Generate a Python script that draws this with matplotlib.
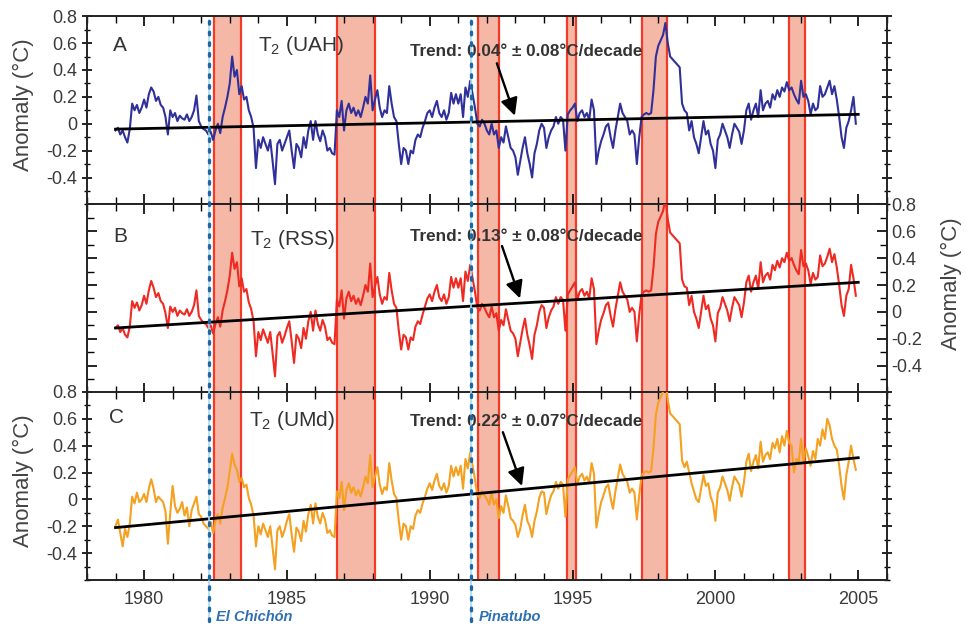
import numpy as np
import matplotlib
matplotlib.use('Agg')
import matplotlib.pyplot as plt
import matplotlib.transforms as mtransforms
from matplotlib.lines import Line2D
from matplotlib.ticker import MultipleLocator, FixedLocator, FuncFormatter

plt.rcParams['font.family'] = ['Liberation Sans', 'DejaVu Sans']
plt.rcParams['axes.unicode_minus'] = False
plt.rcParams['mathtext.default'] = 'regular'

# ---------------- data (monthly anomalies, one row per year 1979..2004) -------------
start_year = 1979
uah = [
    [-0.05, -0.03, -0.08, -0.05, -0.10, -0.14, -0.04, 0.15, 0.10, 0.14, 0.08, 0.12],
    [0.18, 0.12, 0.22, 0.27, 0.24, 0.17, 0.20, 0.14, 0.12, 0.05, -0.08, 0.10],
    [0.05, 0.08, 0.02, 0.06, 0.04, 0.03, 0.07, 0.02, 0.05, 0.10, 0.21, 0.02],
    [-0.02, -0.04, -0.05, -0.08, -0.06, -0.12, -0.05, 0.00, -0.07, 0.05, 0.12, 0.20],
    [0.30, 0.50, 0.35, 0.40, 0.22, 0.28, 0.18, 0.20, 0.10, 0.05, -0.03, -0.33],
    [-0.12, -0.18, -0.10, -0.15, -0.20, -0.12, -0.28, -0.45, -0.15, -0.12, -0.20, -0.15],
    [-0.10, -0.05, -0.20, -0.33, -0.15, -0.18, -0.25, -0.10, -0.18, -0.05, 0.02, -0.12],
    [0.02, -0.08, -0.13, -0.05, -0.10, -0.20, -0.18, -0.22, -0.23, 0.10, 0.05, 0.17],
    [-0.05, 0.10, 0.15, 0.08, 0.12, 0.06, 0.10, 0.05, 0.12, 0.20, 0.15, 0.36],
    [0.10, 0.18, 0.25, 0.12, 0.05, 0.10, 0.08, 0.28, 0.15, 0.05, 0.02, -0.15],
    [-0.30, -0.18, -0.20, -0.30, -0.20, -0.22, -0.12, -0.08, -0.10, -0.03, 0.02, 0.08],
    [0.10, 0.05, 0.12, 0.17, 0.08, 0.05, 0.10, 0.03, 0.08, 0.23, 0.15, 0.22],
    [0.15, 0.22, 0.05, 0.27, 0.20, 0.32, 0.22, 0.12, 0.00, -0.02, 0.03, 0.00],
    [-0.05, -0.08, 0.00, -0.08, -0.05, -0.18, -0.10, -0.14, -0.02, -0.10, -0.18, -0.20],
    [-0.25, -0.38, -0.28, -0.18, -0.10, -0.22, -0.30, -0.40, -0.22, -0.15, -0.05, 0.00],
    [-0.03, -0.18, -0.10, -0.05, -0.02, 0.05, 0.00, 0.05, 0.03, -0.20, 0.07, 0.10],
    [0.12, 0.15, 0.02, 0.08, 0.10, 0.05, 0.08, 0.03, 0.18, 0.10, -0.30, -0.20],
    [-0.13, -0.08, -0.02, 0.00, -0.10, -0.18, -0.05, 0.05, 0.15, 0.08, 0.05, 0.02],
    [-0.08, -0.05, -0.08, -0.30, -0.10, 0.05, 0.07, 0.08, 0.07, 0.08, 0.25, 0.50],
    [0.58, 0.62, 0.66, 0.75, 0.60, 0.50, 0.48, 0.46, 0.44, 0.42, 0.15, 0.10],
    [0.08, -0.05, 0.02, -0.10, -0.15, -0.22, -0.10, 0.02, -0.08, -0.05, -0.15, -0.20],
    [-0.33, -0.12, -0.08, 0.00, -0.05, -0.10, -0.18, -0.08, 0.00, -0.03, -0.06, -0.15],
    [-0.05, 0.10, 0.15, 0.03, 0.10, 0.15, 0.05, 0.25, 0.10, 0.15, 0.17, 0.12],
    [0.22, 0.18, 0.25, 0.20, 0.27, 0.24, 0.31, 0.25, 0.27, 0.22, 0.18, 0.15],
    [0.32, 0.20, 0.22, 0.17, 0.07, 0.15, 0.10, 0.12, 0.28, 0.20, 0.22, 0.27],
    [0.32, 0.22, 0.28, 0.18, 0.05, -0.10, -0.18, -0.03, 0.02, 0.10, 0.20, 0.00],
]
rss = [
    [-0.12, -0.10, -0.15, -0.12, -0.17, -0.19, -0.11, 0.08, 0.03, 0.07, 0.01, 0.05],
    [0.12, 0.06, 0.16, 0.23, 0.18, 0.11, 0.14, 0.08, 0.06, -0.01, -0.12, 0.04],
    [0.00, 0.03, -0.03, 0.01, -0.01, -0.02, 0.02, -0.03, 0.00, 0.05, 0.16, -0.03],
    [-0.06, -0.08, -0.09, -0.12, -0.10, -0.16, -0.09, -0.04, -0.11, 0.01, 0.08, 0.16],
    [0.27, 0.44, 0.32, 0.37, 0.19, 0.25, 0.15, 0.17, 0.07, 0.02, -0.07, -0.33],
    [-0.15, -0.21, -0.13, -0.18, -0.23, -0.15, -0.31, -0.48, -0.18, -0.15, -0.23, -0.18],
    [-0.12, -0.07, -0.22, -0.38, -0.17, -0.20, -0.27, -0.12, -0.20, -0.07, 0.00, -0.14],
    [0.01, -0.09, -0.14, -0.06, -0.11, -0.21, -0.19, -0.23, -0.24, 0.09, 0.04, 0.16],
    [-0.05, 0.10, 0.15, 0.08, 0.12, 0.06, 0.10, 0.05, 0.12, 0.20, 0.15, 0.36],
    [0.11, 0.19, 0.26, 0.13, 0.06, 0.11, 0.09, 0.29, 0.16, 0.06, 0.03, -0.14],
    [-0.28, -0.17, -0.19, -0.28, -0.19, -0.21, -0.11, -0.07, -0.09, -0.02, 0.04, 0.10],
    [0.13, 0.08, 0.15, 0.20, 0.11, 0.08, 0.13, 0.06, 0.11, 0.26, 0.18, 0.25],
    [0.18, 0.25, 0.08, 0.30, 0.23, 0.35, 0.25, 0.15, 0.03, 0.01, 0.06, 0.03],
    [-0.01, -0.04, 0.04, -0.04, -0.01, -0.14, -0.06, -0.10, 0.02, -0.06, -0.14, -0.16],
    [-0.20, -0.33, -0.23, -0.13, -0.05, -0.17, -0.25, -0.35, -0.17, -0.10, 0.00, 0.05],
    [0.03, -0.12, -0.04, 0.01, 0.04, 0.11, 0.06, 0.11, 0.09, -0.14, 0.13, 0.16],
    [0.19, 0.22, 0.09, 0.15, 0.17, 0.12, 0.15, 0.10, 0.25, 0.17, -0.24, -0.14],
    [-0.06, -0.01, 0.05, 0.07, -0.03, -0.11, 0.02, 0.12, 0.22, 0.15, 0.12, 0.09],
    [0.00, 0.03, 0.00, -0.22, -0.02, 0.13, 0.15, 0.16, 0.15, 0.16, 0.33, 0.58],
    [0.67, 0.71, 0.75, 0.84, 0.69, 0.59, 0.57, 0.55, 0.53, 0.51, 0.24, 0.19],
    [0.18, 0.05, 0.12, 0.00, -0.05, -0.12, 0.00, 0.12, 0.02, 0.05, -0.05, -0.10],
    [-0.22, -0.01, 0.03, 0.11, 0.06, 0.01, -0.07, 0.03, 0.11, 0.08, 0.05, -0.04],
    [0.07, 0.22, 0.27, 0.15, 0.22, 0.27, 0.17, 0.37, 0.22, 0.27, 0.29, 0.24],
    [0.35, 0.31, 0.38, 0.33, 0.40, 0.37, 0.44, 0.38, 0.40, 0.35, 0.31, 0.28],
    [0.46, 0.34, 0.36, 0.31, 0.21, 0.29, 0.24, 0.26, 0.42, 0.34, 0.36, 0.41],
    [0.47, 0.37, 0.43, 0.33, 0.20, 0.05, -0.03, 0.12, 0.17, 0.35, 0.25, 0.12],
]
umd = [
    [-0.20, -0.15, -0.25, -0.35, -0.22, -0.28, -0.18, 0.02, -0.03, 0.05, -0.02, 0.00],
    [0.04, -0.02, 0.08, 0.15, 0.08, -0.02, 0.02, 0.00, -0.02, -0.09, -0.33, -0.10],
    [0.10, -0.05, -0.10, -0.07, -0.02, -0.12, -0.06, -0.20, -0.08, -0.03, 0.02, -0.11],
    [-0.13, -0.18, -0.20, -0.22, -0.17, -0.25, -0.16, -0.11, -0.18, -0.06, 0.01, 0.09],
    [0.21, 0.34, 0.26, 0.22, 0.13, 0.16, 0.09, 0.11, 0.01, -0.04, -0.12, -0.35],
    [-0.20, -0.26, -0.18, -0.23, -0.28, -0.20, -0.36, -0.52, -0.23, -0.20, -0.28, -0.23],
    [-0.16, -0.11, -0.26, -0.39, -0.21, -0.24, -0.31, -0.16, -0.24, -0.11, -0.04, -0.18],
    [-0.03, -0.13, -0.18, -0.10, -0.15, -0.25, -0.23, -0.27, -0.28, 0.06, 0.01, 0.13],
    [-0.08, 0.07, 0.12, 0.05, 0.09, 0.03, 0.07, 0.02, 0.09, 0.17, 0.12, 0.33],
    [0.09, 0.17, 0.24, 0.11, 0.04, 0.09, 0.07, 0.27, 0.14, 0.04, 0.01, -0.16],
    [-0.30, -0.18, -0.20, -0.30, -0.20, -0.22, -0.12, -0.08, -0.10, -0.03, 0.02, 0.08],
    [0.12, 0.07, 0.14, 0.19, 0.10, 0.07, 0.12, 0.05, 0.10, 0.25, 0.17, 0.24],
    [0.18, 0.25, 0.08, 0.30, 0.23, 0.35, 0.25, 0.15, 0.03, 0.01, 0.06, 0.03],
    [0.00, -0.04, 0.05, -0.04, 0.00, -0.14, -0.05, -0.10, 0.03, -0.05, -0.14, -0.16],
    [-0.19, -0.28, -0.22, -0.12, -0.04, -0.16, -0.20, -0.28, -0.16, -0.09, 0.01, 0.06],
    [0.05, -0.11, -0.03, 0.03, 0.06, 0.13, 0.08, 0.13, 0.11, -0.13, 0.15, 0.18],
    [0.21, 0.24, 0.11, 0.17, 0.19, 0.14, 0.17, 0.12, 0.27, 0.19, -0.21, -0.11],
    [-0.02, 0.03, 0.09, 0.11, 0.01, -0.07, 0.06, 0.16, 0.26, 0.19, 0.16, 0.13],
    [0.05, 0.08, 0.05, -0.15, 0.03, 0.18, 0.20, 0.21, 0.20, 0.21, 0.38, 0.63],
    [0.72, 0.76, 0.80, 0.89, 0.74, 0.64, 0.62, 0.60, 0.58, 0.56, 0.29, 0.24],
    [0.28, 0.20, 0.12, 0.06, 0.00, -0.02, 0.08, 0.18, 0.10, 0.12, 0.02, -0.03],
    [-0.16, 0.05, 0.09, 0.17, 0.12, 0.07, -0.01, 0.09, 0.17, 0.14, 0.11, 0.02],
    [0.13, 0.28, 0.34, 0.21, 0.28, 0.33, 0.23, 0.43, 0.28, 0.33, 0.35, 0.30],
    [0.42, 0.38, 0.45, 0.35, 0.47, 0.40, 0.51, 0.42, 0.40, 0.20, 0.30, 0.28],
    [0.45, 0.28, 0.38, 0.32, 0.25, 0.36, 0.30, 0.45, 0.40, 0.52, 0.45, 0.60],
    [0.55, 0.45, 0.40, 0.37, 0.25, 0.10, 0.00, 0.18, 0.28, 0.40, 0.30, 0.22],
]
trend_years = [1979, 2005]
trend_uah = [-0.04, 0.07]
trend_rss = [-0.12, 0.22]
trend_umd = [-0.21, 0.31]

enso_start = [1982.46, 1986.77, 1991.68, 1994.81, 1997.44, 2002.56]
enso_end = [1983.40, 1988.07, 1992.42, 1995.12, 1998.32, 2003.12]

volcano_years = [1982.28, 1991.46]
volcano_names = ['El Chichón', 'Pinatubo']

panel_letters = ['A', 'B', 'C']
panel_names = ['T$_2$ (UAH)', 'T$_2$ (RSS)', 'T$_2$ (UMd)']
trend_texts = ['Trend: 0.04° ± 0.08°C/decade',
               'Trend: 0.13° ± 0.08°C/decade',
               'Trend: 0.22° ± 0.07°C/decade']
ytick_values = [-0.4, -0.2, 0, 0.2, 0.4, 0.6, 0.8]
xtick_years = [1980, 1985, 1990, 1995, 2000, 2005]
ylabel_text = 'Anomaly (°C)'

# ---------------- figure ----------------
series = [np.array(uah).ravel(), np.array(rss).ravel(), np.array(umd).ravel()]
trends = [trend_uah, trend_rss, trend_umd]
colors = ['#30309a', '#ee2a22', '#f4a020']
t = start_year + np.arange(series[0].size) / 12.0

fig = plt.figure(figsize=(9.66, 6.25), dpi=100)
left, width = 0.090, 0.828
bottoms = [0.673, 0.372, 0.072]
height = 0.301
axes = [fig.add_axes([left, b, width, height]) for b in bottoms]

tick_color = '#3a3a3a'
fmt = FuncFormatter(lambda v, p: '0' if abs(v) < 1e-9 else '%.1f' % v)

# arrow positions (tail, head) in data coords
arrow_pos = [((1992.35, 0.45), (1992.98, 0.06)),
             ((1992.53, 0.49), (1993.16, 0.10)),
             ((1992.56, 0.50), (1993.23, 0.10))]
letter_pos = [(0.033, 0.845), (0.033, 0.83), (0.028, 0.865)]
name_pos = [(0.214, 0.845), (0.204, 0.815), (0.202, 0.85)]
trend_pos = [(0.404, 0.815), (0.404, 0.83), (0.404, 0.84)]

for i, ax in enumerate(axes):
    ax.set_xlim(1978, 2006)
    ax.set_ylim(-0.6, 0.8)
    for s, e in zip(enso_start, enso_end):
        ax.axvspan(s, e, color='#f6b8a6', lw=0, zorder=1)
        ax.axvline(s, color='#f23a26', lw=1.6, zorder=2)
        ax.axvline(e, color='#f23a26', lw=1.6, zorder=2)
    ax.plot(t, series[i], color=colors[i], lw=1.5, zorder=3)
    ax.plot(trend_years, trends[i], color='black', lw=2.0, zorder=4)
    ax.annotate('', xy=arrow_pos[i][1], xytext=arrow_pos[i][0],
                arrowprops=dict(arrowstyle='-|>', mutation_scale=26, lw=1.7,
                                color='black', shrinkA=0, shrinkB=0), zorder=6)
    ax.text(*letter_pos[i], panel_letters[i], transform=ax.transAxes, fontsize=15,
            color='#333333', va='center', ha='left', zorder=6)
    ax.text(*name_pos[i], panel_names[i], transform=ax.transAxes, fontsize=15,
            color='#333333', va='center', ha='left', zorder=6)
    ax.text(*trend_pos[i], trend_texts[i], transform=ax.transAxes, fontsize=12.3,
            fontweight='bold', color='#333333', va='center', ha='left', zorder=6)

    ax.xaxis.set_major_locator(FixedLocator(xtick_years))
    ax.xaxis.set_minor_locator(MultipleLocator(1))
    ax.yaxis.set_major_locator(FixedLocator(ytick_values))
    ax.yaxis.set_minor_locator(MultipleLocator(0.1))
    ax.yaxis.set_major_formatter(fmt)
    for sp in ax.spines.values():
        sp.set_linewidth(1.4)
        sp.set_color('#222222')
    ax.tick_params(axis='x', which='both', direction='in', top=True, bottom=True,
                   labelbottom=(i == 2), labelsize=13, labelcolor=tick_color, pad=8)
    ax.tick_params(axis='x', which='major', length=7, width=1.2)
    ax.tick_params(axis='x', which='minor', length=5, width=1.0)
    if i == 1:
        ax.tick_params(axis='y', which='both', direction='in', left=True, right=True,
                       labelleft=False, labelright=True, labelsize=13,
                       labelcolor=tick_color)
        ax.yaxis.set_label_position('right')
        ax.set_ylabel(ylabel_text, fontsize=16, color='#444444', rotation=90)
        ax.yaxis.set_label_coords(1.068, 0.58)
    else:
        ax.tick_params(axis='y', which='both', direction='inout', left=True, right=True,
                       labelleft=True, labelright=False, labelsize=13,
                       labelcolor=tick_color)
        ax.set_ylabel(ylabel_text, fontsize=16, color='#444444')
        ax.yaxis.set_label_coords(-0.066, 0.53)
    ax.tick_params(axis='y', which='major', length=7, width=1.2)
    ax.tick_params(axis='y', which='minor', length=5, width=1.0)

# volcano lines spanning all panels and down to labels
trans = mtransforms.blended_transform_factory(axes[2].transData, fig.transFigure)
for yr, name in zip(volcano_years, volcano_names):
    fig.add_artist(Line2D([yr, yr], [0.006, 0.968], transform=trans,
                          color='#a8dcec', lw=1.2, zorder=7))
    fig.add_artist(Line2D([yr, yr], [0.006, 0.968], transform=trans,
                          color='#1e66a8', lw=2.4, linestyle=(0, (0.8, 2.4)),
                          dash_capstyle='round', zorder=8))
    fig.text(yr + 0.25, 0.0128, name, transform=trans, fontsize=10.5,
             style='italic', fontweight='bold', color='#2e6fb4',
             ha='left', va='center')

fig.savefig('out.png', dpi=100)
